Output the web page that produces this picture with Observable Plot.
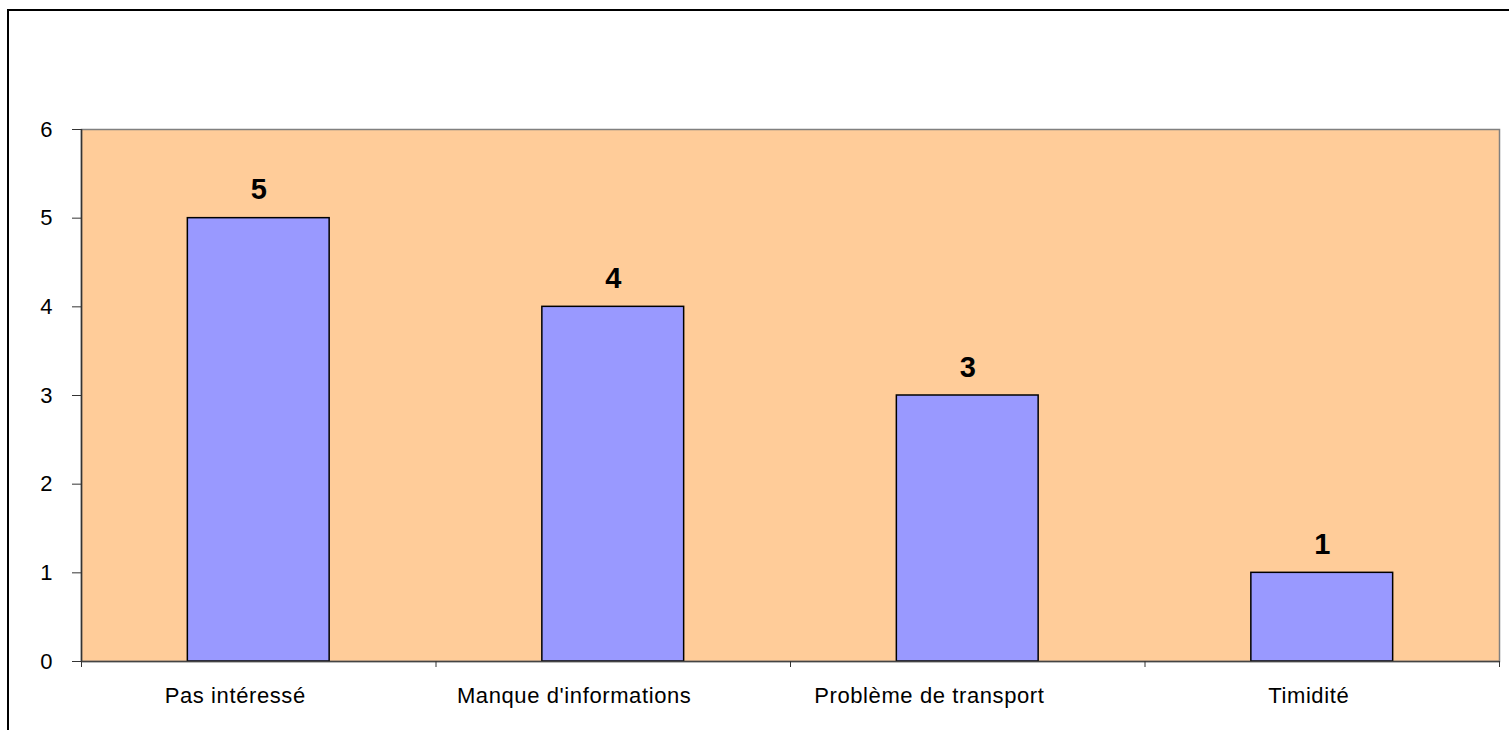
<!DOCTYPE html>
<html lang="fr">
<head>
<meta charset="utf-8">
<script src="https://cdn.jsdelivr.net/npm/d3@7"></script>
<script src="https://cdn.jsdelivr.net/npm/@observablehq/plot@0.6"></script>
<style>
  html, body { margin: 0; padding: 0; background: #ffffff; }
  #chart { position: relative; width: 1509px; height: 730px; overflow: hidden; }
  #chart svg { display: block; }
  /* Outer chart border (top and left edges visible) */
  #border {
    position: absolute; left: 7px; top: 9px; width: 1600px; height: 800px;
    border-left: 2px solid #000; border-top: 2px solid #000;
    pointer-events: none;
  }
</style>
</head>
<body>
<div id="chart"><div id="border"></div></div>
<script>
// Reasons given, and how many respondents gave each
const categories = ["Pas intéressé", "Manque d'informations", "Problème de transport", "Timidité"];
const counts = [5, 4, 3, 1];
const yTicks = [0, 1, 2, 3, 4, 5, 6];

const data = categories.map((c, i) => ({ i, category: c, count: counts[i] }));
const boundaries = d3.range(categories.length + 1);

const chart = Plot.plot({
  width: 1509,
  height: 730,
  marginLeft: 81,
  marginRight: 10,
  marginTop: 129,
  marginBottom: 69,
  style: { fontFamily: "'Liberation Sans', Arial, sans-serif", background: "transparent", color: "#000" },
  x: { type: "linear", domain: [0, categories.length] },
  y: { domain: [0, 6] },
  marks: [
    // plot-area background
    Plot.frame({ fill: "#FFCC99", stroke: "#808080", strokeWidth: 1.5 }),
    // bars: 40% of each category slot, centred
    Plot.rectY(data, {
      x1: d => d.i + 0.3,
      x2: d => d.i + 0.7,
      y1: 0,
      y2: "count",
      fill: "#9999FF",
      stroke: "#000",
      strokeWidth: 1.5
    }),
    // axis lines
    Plot.ruleX([0], { stroke: "#333", strokeWidth: 1.5 }),
    Plot.ruleY([0], { stroke: "#444", strokeWidth: 1.5 }),
    // y axis
    Plot.axisY({
      ticks: yTicks,
      tickFormat: d3.format("d"),
      tickSize: 9,
      tickPadding: 20,
      fontSize: 22,
      stroke: "#333",
      label: null
    }),
    // x axis: tick marks between categories
    Plot.axisX({
      ticks: boundaries,
      tickSize: 6,
      tickFormat: () => "",
      stroke: "#333",
      label: null
    }),
    // category names under each slot
    Plot.text(data, {
      x: d => d.i + 0.5,
      y: 0,
      text: "category",
      lineAnchor: "top",
      dy: 26,
      fontSize: 22,
      fill: "#000",
      className: "cat-label"
    }),
    // value labels above bars
    Plot.text(data, {
      x: d => d.i + 0.5,
      y: "count",
      text: d => String(d.count),
      lineAnchor: "bottom",
      dy: -19,
      fontSize: 29,
      fontWeight: "bold",
      fill: "#000"
    })
  ]
});

document.getElementById("chart").prepend(chart);

// Category names sit slightly left of their slot centre, by a share of their width
d3.select(chart).selectAll(".cat-label text").each(function () {
  this.style.letterSpacing = "0.6px";
  const w = this.getComputedTextLength();
  this.setAttribute("dx", (-w / 6).toFixed(1));
});
</script>
</body>
</html>
